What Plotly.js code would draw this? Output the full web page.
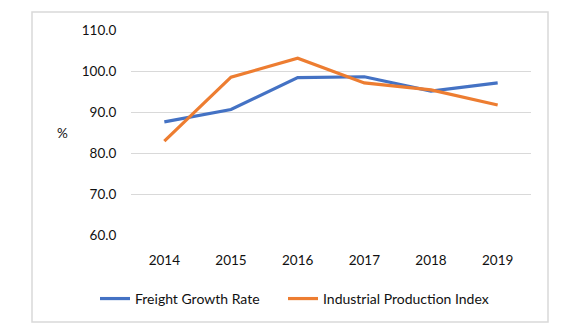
<!DOCTYPE html>
<html>
<head>
<meta charset="UTF-8">
<script src="https://cdn.plot.ly/plotly-3.0.1.min.js"></script>
<style>
	body { margin: 0; background: #ffffff; }
	#plot { width: 588px; height: 334px; }
</style>
</head>
<body>
<div id="plot"></div>
<script>
	// values
	var years = ['2014', '2015', '2016', '2017', '2018', '2019'];
	var freightGrowth = [87.6, 90.6, 98.4, 98.6, 95.1, 97.1];
	var industrialIndex = [82.9, 98.5, 103.1, 97.1, 95.4, 91.7];
	var yTicks = [60, 70, 80, 90, 100, 110];

	var traceFreight =
	{
		x: years,
		y: freightGrowth,
		type: 'scatter',
		mode: 'lines',
		name: 'Freight Growth Rate',
		legend: 'legend',
		line: {color: '#4472C4', width: 3.2}
	};
	var traceIndustrial =
	{
		x: years,
		y: industrialIndex,
		type: 'scatter',
		mode: 'lines',
		name: 'Industrial Production Index',
		legend: 'legend2',
		line: {color: '#ED7D31', width: 3.2}
	};

	// each series gets its own legend box so the gap between entries matches
	var legendBase =
	{
		orientation: 'h',
		xanchor: 'left',
		y: -0.312,
		yanchor: 'middle',
		font: {size: 14}
	};

	var layout =
	{
		width: 588,
		height: 334,
		margin: {l: 131, r: 57, t: 30, b: 99},
		paper_bgcolor: '#ffffff',
		plot_bgcolor: '#ffffff',
		font: {family: 'Lato, "Open Sans", sans-serif', size: 13.5, color: '#111111'},
		showlegend: true,
		legend: Object.assign({}, legendBase, {x: -0.09}),
		legend2: Object.assign({}, legendBase, {x: 0.38}),
		xaxis:
		{
			type: 'category',
			range: [-0.5, 5.5],
			showgrid: false,
			zeroline: false,
			showline: false,
			ticks: 'outside',
			ticklen: 13,
			tickcolor: 'rgba(0,0,0,0)'
		},
		yaxis:
		{
			range: [60, 110],
			tickvals: yTicks,
			tickformat: '.1f',
			showgrid: true,
			gridcolor: '#D9D9D9',
			gridwidth: 1,
			zeroline: false,
			showline: false,
			ticks: 'outside',
			ticklen: 11,
			tickcolor: 'rgba(0,0,0,0)'
		},
		annotations:
		[
			{
				text: '%',
				xref: 'paper',
				yref: 'paper',
				x: -0.1725,
				y: 0.5,
				xanchor: 'center',
				yanchor: 'middle',
				showarrow: false,
				font: {size: 13.5}
			}
		],
		shapes:
		[
			// outer chart border
			{
				type: 'rect',
				xref: 'paper',
				yref: 'paper',
				x0: -0.2475,
				x1: 1.0425,
				y0: -0.4244,
				y1: 1.0878,
				line: {color: '#D9D9D9', width: 1.5},
				fillcolor: 'rgba(0,0,0,0)',
				layer: 'below'
			}
		]
	};

	var config = {displayModeBar: false, staticPlot: true};

	Plotly.newPlot('plot', [traceFreight, traceIndustrial], layout, config);
</script>
</body>
</html>
